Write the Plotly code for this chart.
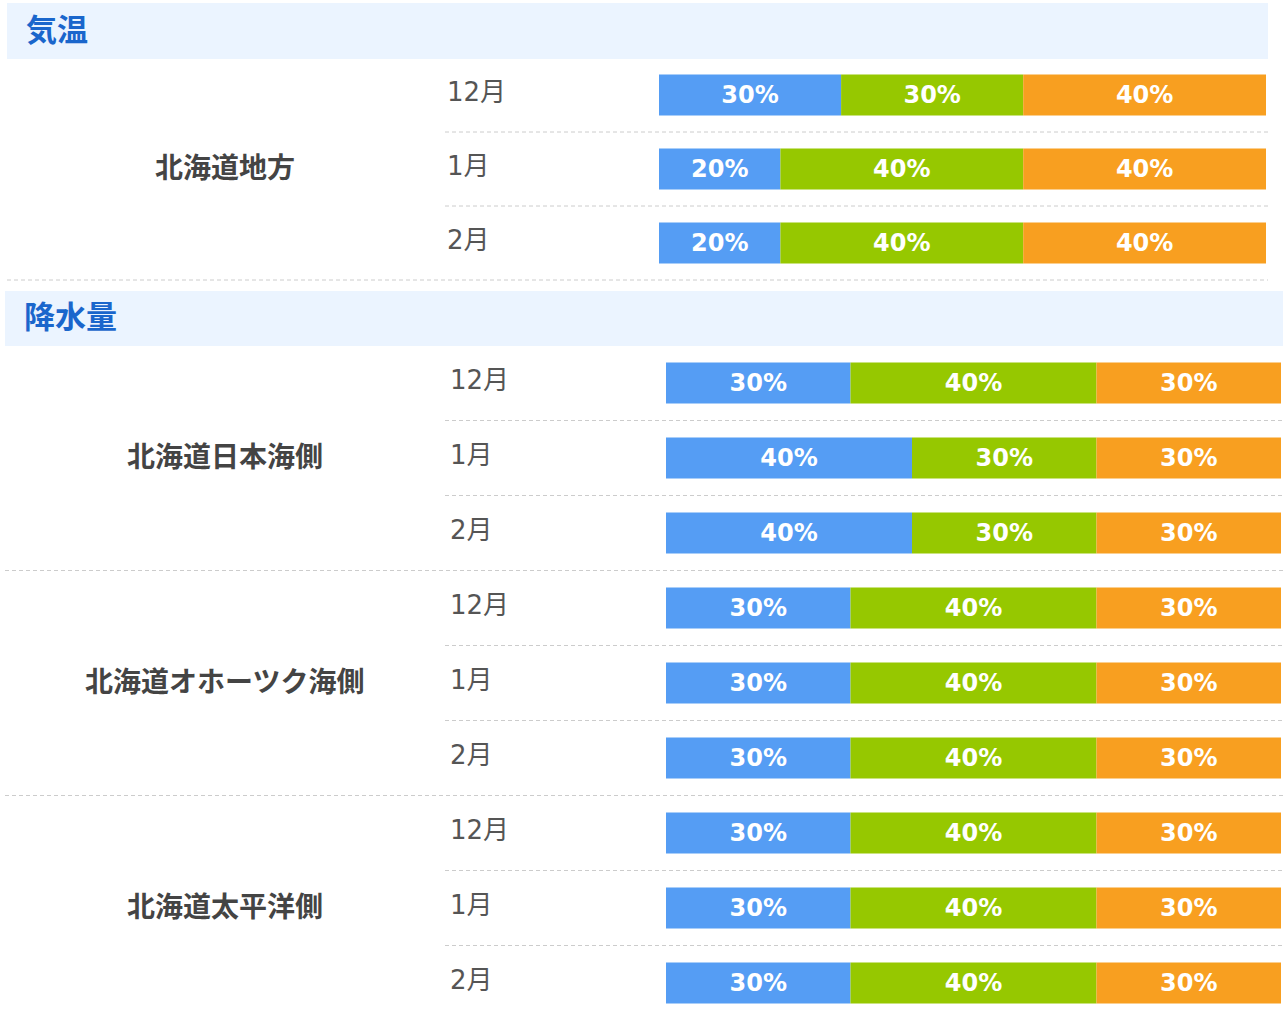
import plotly.graph_objects as go

W, H = 1285, 1016

# ---- data ----
sections = ["気温", "降水量"]
temp_regions = ["北海道地方"]
precip_regions = ["北海道日本海側", "北海道オホーツク海側", "北海道太平洋側"]
months = ["12月", "1月", "2月"]

# values: [below, normal, above] per month
temp_below = [[30, 20, 20]]
temp_normal = [[30, 40, 40]]
temp_above = [[40, 40, 40]]

precip_below = [[30, 40, 40], [30, 30, 30], [30, 30, 30]]
precip_normal = [[40, 30, 30], [40, 40, 40], [40, 40, 40]]
precip_above = [[30, 30, 30], [30, 30, 30], [30, 30, 30]]

colors = ["#559DF4", "#96C800", "#F89F20"]

# ---- layout parameters (pixels) ----
sec_cfg = [
    dict(band=(7, 1268, 3, 59), title_x=24, first_row=95, step=74, bar_x=(659, 1266),
         month_x=445, sep_x0=445, full_x0=7, full_x1=1268, axis="x",
         regions=temp_regions, vals=(temp_below, temp_normal, temp_above)),
    dict(band=(5, 1283, 291, 346), title_x=22, first_row=383, step=75, bar_x=(666, 1281),
         month_x=448, sep_x0=445, full_x0=5, full_x1=1283, axis="x2",
         regions=precip_regions, vals=(precip_below, precip_normal, precip_above)),
]

fig = go.Figure()
shapes = []
annotations = []

for si, cfg in enumerate(sec_cfg):
    bx0, bx1, by0, by1 = cfg["band"]
    shapes.append(dict(type="rect", xref="paper", yref="y", x0=bx0 / W, x1=bx1 / W,
                       y0=by0, y1=by1, fillcolor="#EBF4FF", line=dict(width=0), layer="below"))
    annotations.append(dict(text="<b>" + sections[si] + "</b>", xref="paper", yref="y",
                            x=cfg["title_x"] / W, y=(by0 + by1) / 2 - 4, xanchor="left", yanchor="middle",
                            showarrow=False,
                            font=dict(family="Noto Sans CJK JP", size=31, color="#1A66CC")))
    below, normal, above = cfg["vals"]
    ys, b_vals, n_vals, a_vals = [], [], [], []
    step = cfg["step"]
    for ri, reg in enumerate(cfg["regions"]):
        centers = [cfg["first_row"] + (ri * 3 + mi) * step for mi in range(3)]
        annotations.append(dict(text="<b>" + reg + "</b>", xref="paper", yref="y",
                                x=225 / W, y=centers[1] - 3, xanchor="center", yanchor="middle",
                                showarrow=False,
                                font=dict(family="Noto Sans CJK JP", size=28, color="#444444")))
        for mi, m in enumerate(months):
            yc = centers[mi]
            ys.append(yc)
            b_vals.append(below[ri][mi])
            n_vals.append(normal[ri][mi])
            a_vals.append(above[ri][mi])
            annotations.append(dict(text=m, xref="paper", yref="y", x=cfg["month_x"] / W, y=yc - 3,
                                    xanchor="left", yanchor="middle", showarrow=False,
                                    font=dict(family="DejaVu Sans, Noto Sans CJK JP", size=26,
                                              color="#555555")))
            sep_y = yc + step / 2
            x0 = cfg["sep_x0"] if mi < 2 else cfg["full_x0"]
            shapes.append(dict(type="line", xref="paper", yref="y", x0=x0 / W,
                               x1=cfg["full_x1"] / W, y0=sep_y, y1=sep_y,
                               line=dict(color="#CCCCCC", width=1, dash="4px,3px")))
    bases = [[0] * len(ys),
             b_vals,
             [b + n for b, n in zip(b_vals, n_vals)]]
    for k, vals in enumerate([b_vals, n_vals, a_vals]):
        fig.add_trace(go.Bar(
            x=vals, y=ys, base=bases[k], orientation="h", width=41,
            marker=dict(color=colors[k], line=dict(width=0)),
            text=[f"{v}%" for v in vals], textposition="inside", insidetextanchor="middle",
            textfont=dict(family="DejaVu Sans", size=24, color="white", weight="bold"),
            xaxis=cfg["axis"], yaxis="y", showlegend=False, hoverinfo="skip",
            constraintext="none",
        ))

fig.update_layout(
    width=W, height=H,
    margin=dict(l=0, r=0, t=0, b=0),
    paper_bgcolor="white", plot_bgcolor="rgba(0,0,0,0)",
    barmode="overlay",
    shapes=shapes, annotations=annotations,
    xaxis=dict(domain=[659 / W, 1266 / W], range=[0, 100], visible=False, fixedrange=True),
    xaxis2=dict(domain=[666 / W, 1281 / W], range=[0, 100], visible=False, anchor="y", fixedrange=True),
    yaxis=dict(range=[H, 0], visible=False, fixedrange=True),
    uniformtext=dict(minsize=24, mode="show"),
)

fig.write_html("out.html", config={"displayModeBar": False},
               post_script="document.body.style.margin='0';document.body.style.overflow='hidden';")
